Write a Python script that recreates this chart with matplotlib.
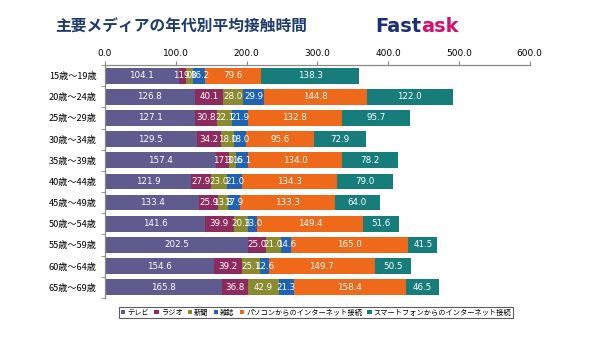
import matplotlib
matplotlib.use("Agg")
import matplotlib.pyplot as plt
import numpy as np

plt.rcParams['font.family'] = ['Noto Sans CJK JP', 'DejaVu Sans']

categories = ["15歳～19歳", "20歳～24歳", "25歳～29歳", "30歳～34歳", "35歳～39歳",
              "40歳～44歳", "45歳～49歳", "50歳～54歳", "55歳～59歳", "60歳～64歳", "65歳～69歳"]
series_names = ["テレビ", "ラジオ", "新聞", "雑誌", "パソコンからのインターネット接続",
                "スマートフォンからのインターネット接続"]
tv = [104.1, 126.8, 127.1, 129.5, 157.4, 121.9, 133.4, 141.6, 202.5, 154.6, 165.8]
radio = [11.0, 40.1, 30.8, 34.2, 17.3, 27.9, 25.9, 39.9, 25.0, 39.2, 36.8]
newspaper = [9.8, 28.0, 22.1, 18.0, 10.6, 23.0, 13.8, 20.3, 21.0, 25.1, 42.9]
magazine = [16.2, 29.9, 21.9, 18.0, 16.1, 21.0, 17.9, 13.0, 14.6, 12.6, 21.3]
pc = [79.6, 144.8, 132.8, 95.6, 134.0, 134.3, 133.3, 149.4, 165.0, 149.7, 158.4]
smartphone = [138.3, 122.0, 95.7, 72.9, 78.2, 79.0, 64.0, 51.6, 41.5, 50.5, 46.5]
x_ticks = [0, 100, 200, 300, 400, 500, 600]

colors = ["#5F5B8E", "#8E2B5E", "#8A8A2E", "#1F64B4", "#EE6A1A", "#167D7A"]
data = [tv, radio, newspaper, magazine, pc, smartphone]

fig = plt.figure(figsize=(6, 3.5), dpi=100)
ax = fig.add_axes([0.175, 0.149, 0.708, 0.665])

y = np.arange(len(categories))
left = np.zeros(len(categories))
handles = []
for vals, col, name in zip(data, colors, series_names):
    vals = np.array(vals)
    bars = ax.barh(y, vals, left=left, height=0.74, color=col, label=name,
                   edgecolor='none')
    handles.append(bars)
    for yi, l, v in zip(y, left, vals):
        ax.text(l + v / 2, yi, f"{v:.1f}", ha='center', va='center',
                color='white', fontsize=6.3, family='DejaVu Sans')
    left = left + vals

ax.set_ylim(len(categories) - 0.5, -0.5)
ax.set_xlim(0, 600)
ax.xaxis.tick_top()
ax.set_xticks(x_ticks)
ax.set_xticklabels([f"{t:.1f}" for t in x_ticks], fontsize=6.5, family='DejaVu Sans')
ax.tick_params(axis='x', direction='out', length=3, color='#888888', pad=2)
ax.set_yticks(y)
ax.set_yticklabels(categories, fontsize=6.6)
ax.tick_params(axis='y', length=0, pad=6)
ax.set_yticks(np.arange(-0.5, len(categories), 1), minor=True)
ax.tick_params(axis='y', which='minor', length=3, color='#888888', direction='out')
for s in ['right', 'bottom']:
    ax.spines[s].set_visible(False)
for s in ['left', 'top']:
    ax.spines[s].set_color('#888888')
    ax.spines[s].set_linewidth(0.9)

leg = fig.legend(handles=handles, labels=series_names, loc='center',
                 bbox_to_anchor=(0.527, 0.107), ncol=6, fontsize=5.2,
                 frameon=True, fancybox=False, edgecolor='#333333',
                 handlelength=0.6, handleheight=0.6, handletextpad=0.3,
                 columnspacing=0.7, borderpad=0.25)
leg.get_frame().set_linewidth(0.8)

fig.text(0.092, 0.925, "主要メディアの年代別平均接触時間", fontsize=11.3,
         fontweight='bold', color='#1F3A6E', va='center', ha='left')

t1 = fig.text(0.625, 0.925, "Fast", fontsize=14, fontweight='bold', color='#1B2E7C',
              va='center', ha='left', family='DejaVu Sans')
fig.canvas.draw()
bb = t1.get_window_extent(renderer=fig.canvas.get_renderer())
x_end = bb.x1 / fig.bbox.width
fig.text(x_end, 0.925, "ask", fontsize=14, fontweight='bold', color='#D4106E',
         va='center', ha='left', family='DejaVu Sans')

fig.savefig("out.png", dpi=100)
